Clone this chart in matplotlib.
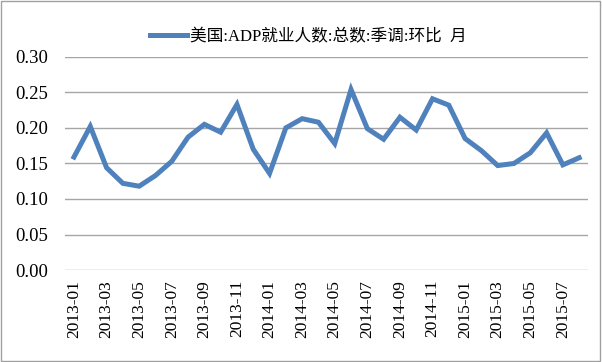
import matplotlib
matplotlib.use("Agg")
import matplotlib.pyplot as plt
from matplotlib.patches import Rectangle

plt.rcParams['font.family'] = ['Liberation Serif', 'Noto Sans CJK SC', 'DejaVu Sans']

# monthly data, 2013-01 .. 2015-08
months = [f"{y}-{m:02d}" for y in (2013, 2014, 2015) for m in range(1, 13)][:32]
values = [0.159, 0.202, 0.144, 0.122, 0.118, 0.133, 0.153, 0.187, 0.205, 0.194,
          0.233, 0.170, 0.136, 0.200, 0.213, 0.208, 0.178, 0.254, 0.199, 0.184,
          0.215, 0.197, 0.241, 0.232, 0.185, 0.168, 0.147, 0.150, 0.165, 0.193,
          0.148, 0.158]
series_name = "美国:ADP就业人数:总数:季调:环比  月"
yticks = [0.00, 0.05, 0.10, 0.15, 0.20, 0.25, 0.30]

fig = plt.figure(figsize=(6.02, 3.62), dpi=100)
ax = fig.add_axes([0.108, 0.254, 0.869, 0.589])

x = list(range(len(months)))
ax.plot(x, values, color='#4F81BD', lw=3.6, solid_joinstyle='miter', label=series_name)

ax.set_ylim(0, 0.30)
ax.set_xlim(-0.55, len(months) - 0.45)
ax.set_yticks(yticks)
ax.set_yticklabels([f"{v:.2f}" for v in yticks], fontsize=13.5)
ax.set_xticks(x[::2])
ax.set_xticklabels(months[::2], rotation=90, fontsize=12.5)
ax.tick_params(axis='y', length=0, pad=12)
ax.tick_params(axis='x', length=0, pad=7)
ax.grid(axis='y', color='#A6A6A6', lw=1)
ax.set_axisbelow(True)
for s in ax.spines.values():
    s.set_visible(False)

ax.legend(loc='lower center', bbox_to_anchor=(0.465, 1.0), frameon=False,
          fontsize=12, handlelength=2.2, handletextpad=0.2, borderaxespad=0.3)

fig.patches.append(Rectangle((0.002, 0.003), 0.995, 0.993, transform=fig.transFigure,
                             fill=False, edgecolor='#A0A0A0', lw=1))
fig.savefig("out.png", dpi=100)
